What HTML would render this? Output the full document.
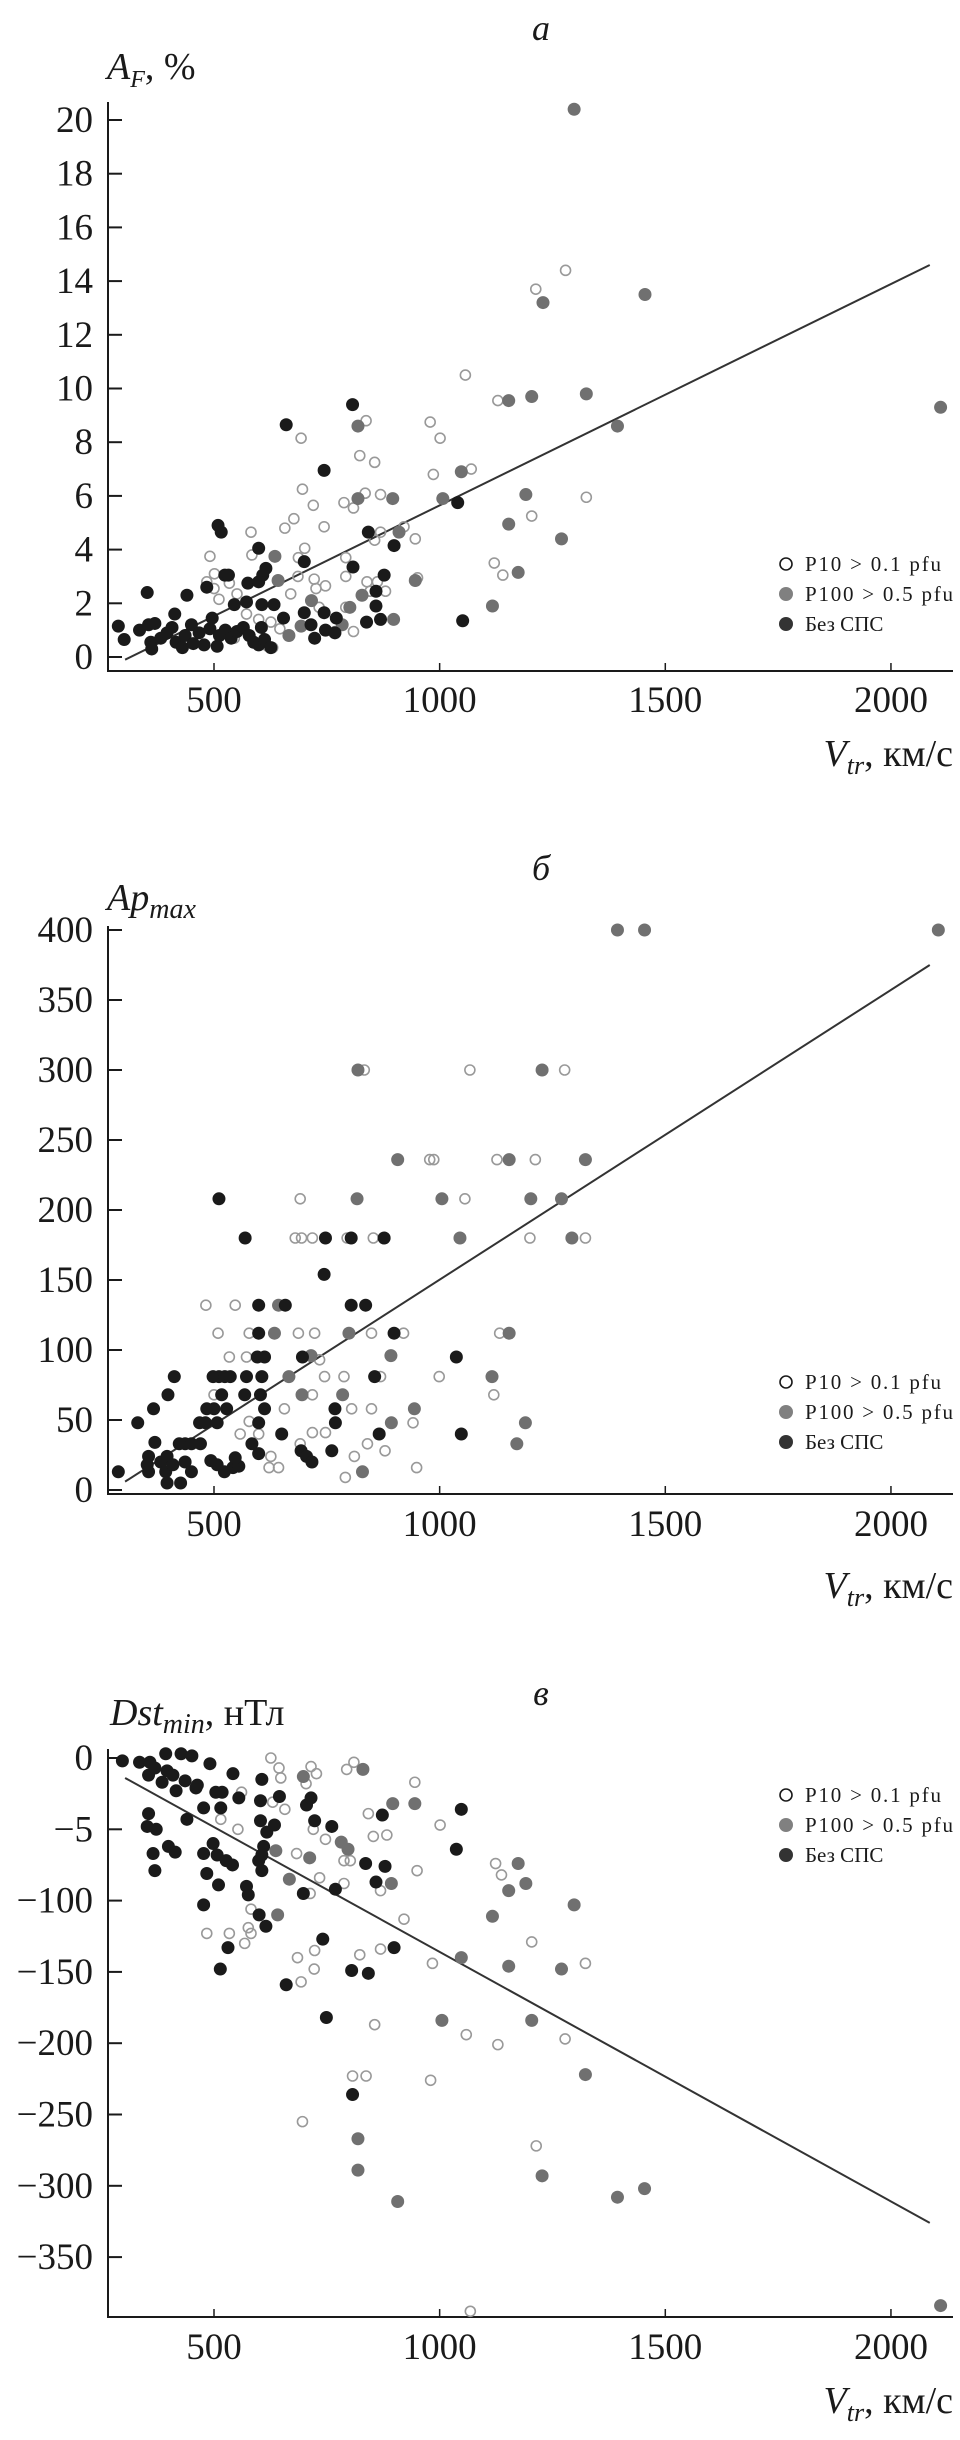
<!DOCTYPE html>
<html><head><meta charset="utf-8"><style>
html,body{margin:0;padding:0;background:#fff;}
svg{display:block;font-family:"Liberation Serif","DejaVu Serif",serif;}
.tick{font-size:37px;fill:#1a1a1a;}
.leg{font-size:21px;fill:#1a1a1a;}
</style></head><body>
<svg id="chart" width="960" height="2440" viewBox="0 0 960 2440" xmlns="http://www.w3.org/2000/svg"></svg>
<script>
// shared x axis
const xTicks = [500, 1000, 1500, 2000];
// panel a: A_F, %
const aTicks = [0, 2, 4, 6, 8, 10, 12, 14, 16, 18, 20];
const aFit = [[303, -0.1], [2086, 14.6]];
const aGray = [[1298,20.4],[1229,13.2],[1455,13.5],[2110,9.3],[1153,9.55],[1204,9.7],[1325,9.8],[1394,8.6],[1048,6.9],[819,8.6],[819,5.9],[896,5.9],[1007,5.9],[1191,6.05],[1153,4.95],[1270,4.4],[910,4.65],[635,3.75],[642,2.85],[946,2.85],[1174,3.15],[828,2.3],[716,2.1],[801,1.85],[1117,1.9],[666,0.8],[693,1.15],[898,1.4],[784,1.2]];
const aOpen = [[1213,13.7],[1279,14.4],[1057,10.5],[1129,9.55],[979,8.75],[1001,8.15],[837,8.8],[693,8.15],[823,7.5],[856,7.25],[1070,7.0],[986,6.8],[696,6.25],[835,6.1],[869,6.05],[788,5.75],[809,5.55],[720,5.65],[677,5.15],[657,4.8],[744,4.85],[921,4.85],[1204,5.25],[1325,5.95],[582,4.65],[869,4.65],[856,4.35],[946,4.4],[584,3.8],[491,3.75],[701,4.05],[687,3.7],[792,3.7],[1121,3.5],[1140,3.05],[501,3.1],[534,2.75],[484,2.8],[686,3.0],[722,2.9],[792,3.0],[839,2.8],[862,2.8],[951,2.95],[500,2.55],[726,2.55],[747,2.65],[670,2.35],[846,2.45],[880,2.45],[511,2.15],[551,2.35],[733,1.85],[792,1.85],[572,1.6],[626,1.3],[646,1.05],[768,0.95],[809,0.95],[619,0.4],[630,0.35],[545,0.7],[599,1.4]];
const aBlack = [[807,9.4],[660,8.65],[744,6.95],[1040,5.75],[509,4.9],[516,4.65],[842,4.65],[899,4.15],[599,4.05],[700,3.55],[808,3.35],[615,3.3],[524,3.05],[532,3.05],[608,3.05],[877,3.05],[575,2.75],[484,2.6],[352,2.4],[440,2.3],[599,2.8],[859,2.45],[545,1.95],[572,2.05],[606,1.95],[633,1.95],[700,1.65],[744,1.65],[859,1.9],[413,1.6],[771,1.45],[654,1.45],[869,1.4],[838,1.3],[1051,1.35],[747,1.0],[768,0.9],[715,1.2],[723,0.7],[288,1.15],[301,0.65],[335,1.0],[355,1.2],[369,1.25],[360,0.55],[362,0.3],[382,0.7],[396,0.9],[407,1.1],[416,0.55],[430,0.35],[436,0.8],[450,1.2],[454,0.5],[467,0.9],[478,0.45],[491,1.05],[496,1.45],[507,0.4],[512,0.8],[525,1.0],[538,0.7],[551,0.95],[565,1.1],[578,0.8],[588,0.55],[599,0.45],[612,0.65],[626,0.35],[605,1.1]];
// panel b: Ap_max
const bTicks = [0, 50, 100, 150, 200, 250, 300, 350, 400];
const bFit = [[303, 6], [2086, 375]];
const bGray = [[1394,400],[1454,400],[2105,400],[819,300],[1227,300],[907,236],[1154,236],[1323,236],[817,208],[1005,208],[1202,208],[1270,208],[1045,180],[1293,180],[643,132],[634,112],[1154,112],[666,81],[1116,81],[892,96],[715,96],[695,68],[785,68],[944,58],[893,48],[1190,48],[1171,33],[829,13],[799,112]];
const bOpen = [[833,300],[1067,300],[1277,300],[978,236],[987,236],[1127,236],[1212,236],[691,208],[1056,208],[680,180],[694,180],[718,180],[795,180],[853,180],[1200,180],[1323,180],[482,132],[547,132],[509,112],[578,112],[687,112],[723,112],[849,112],[920,112],[1133,112],[534,95],[572,95],[734,93],[745,81],[788,81],[869,81],[999,81],[500,68],[718,68],[1120,68],[656,58],[805,58],[849,58],[558,40],[599,40],[578,49],[941,48],[718,41],[747,41],[691,33],[840,33],[879,28],[626,24],[643,16],[622,16],[811,24],[949,16],[791,9],[434,20]];
const bBlack = [[511,208],[569,180],[747,180],[804,180],[877,180],[744,154],[599,132],[658,132],[804,132],[836,132],[599,112],[899,112],[596,95],[612,95],[696,95],[1037,95],[412,81],[498,81],[511,81],[524,81],[536,81],[572,81],[606,81],[856,81],[398,68],[517,68],[568,68],[603,68],[366,58],[484,58],[500,58],[528,58],[612,58],[768,58],[331,48],[468,48],[481,48],[507,48],[599,48],[769,48],[423,33],[436,33],[450,33],[470,33],[650,40],[866,40],[1048,40],[584,33],[599,26],[693,28],[761,28],[705,24],[717,20],[355,24],[352,18],[369,34],[382,20],[396,24],[393,13],[409,18],[436,20],[450,13],[396,5],[426,5],[288,13],[507,18],[523,13],[542,16],[555,17],[547,23],[493,21],[355,13]];
// panel c: Dst_min
const cTicks = [0, -50, -100, -150, -200, -250, -300, -350];
const cTickLabels = ["0", "\u22125", "\u2212100", "\u2212150", "\u2212200", "\u2212250", "\u2212300", "\u2212350"];
const cFit = [[303, -14], [2086, -326]];
const cGray = [[830,-8],[698,-13],[896,-32],[945,-32],[637,-65],[667,-85],[712,-70],[782,-59],[797,-64],[893,-88],[641,-110],[1174,-74],[1153,-93],[1191,-88],[1117,-111],[1298,-103],[1048,-140],[1153,-146],[1270,-148],[1005,-184],[1204,-184],[1323,-222],[819,-267],[819,-289],[907,-311],[1227,-293],[1394,-308],[1454,-302],[2110,-384]];
const cOpen = [[626,0],[644,-7],[648,-14],[715,-6],[727,-11],[704,-18],[794,-8],[810,-3],[515,-43],[561,-24],[553,-50],[657,-36],[630,-31],[720,-50],[747,-57],[734,-84],[713,-95],[683,-67],[788,-72],[802,-72],[853,-55],[883,-54],[842,-39],[945,-17],[950,-79],[1001,-47],[869,-93],[788,-88],[1124,-74],[1137,-82],[1204,-129],[1323,-144],[921,-113],[582,-106],[576,-119],[582,-123],[568,-130],[534,-123],[484,-123],[685,-140],[723,-135],[722,-148],[693,-157],[823,-138],[869,-134],[984,-144],[856,-187],[1059,-194],[1129,-201],[1278,-197],[807,-223],[837,-223],[980,-226],[696,-255],[1214,-272],[1068,-388]];
const cBlack = [[297,-2],[335,-3],[358,-3],[393,3],[427,3],[451,1.5],[491,-4],[542,-11],[606,-15],[645,-27],[705,-33],[715,-28],[873,-40],[1048,-36],[1037,-64],[355,-12],[369,-7],[385,-17],[396,-9],[409,-12],[416,-23],[436,-16],[460,-21],[440,-43],[463,-19],[504,-24],[518,-24],[477,-35],[515,-35],[555,-28],[603,-30],[603,-44],[617,-52],[634,-47],[723,-44],[761,-48],[355,-39],[352,-48],[372,-50],[365,-67],[369,-79],[399,-62],[414,-66],[477,-67],[484,-81],[507,-68],[498,-60],[527,-72],[541,-75],[510,-89],[606,-68],[606,-79],[599,-72],[610,-62],[572,-90],[576,-96],[698,-95],[769,-92],[836,-74],[879,-76],[859,-87],[477,-103],[600,-110],[615,-118],[741,-127],[531,-133],[514,-148],[660,-159],[805,-149],[842,-151],[899,-133],[749,-182],[807,-236]];

const NS = "http://www.w3.org/2000/svg";
const svg = document.getElementById("chart");
function mk(tag, attrs, parent) {
  const e = document.createElementNS(NS, tag);
  for (const k in attrs) e.setAttribute(k, attrs[k]);
  (parent || svg).appendChild(e);
  return e;
}
function xs(v) { return 214 + (v - 500) * 0.4513; }
const X0 = 108, X1 = 953;

function panel(cfg) {
  const g = mk("g", {});
  
  
  const ys = cfg.ys;
  // axes
  const ax = mk("path", {d: `M${X0} ${cfg.top} V${cfg.axisY} H${X1}`, stroke: "#1a1a1a", "stroke-width": 2, fill: "none"}, g);
  
  
  // y ticks
  cfg.ticks.forEach((t, i) => {
    const y = ys(t);
    const tl = mk("line", {x1: X0, x2: X0 + 14, y1: y, y2: y, stroke: "#1a1a1a", "stroke-width": 2}, g);
    
    
    const tx = mk("text", {x: 93, y: y + 12, "text-anchor": "end", class: "tick"}, g);
    
    
    tx.textContent = cfg.labels ? cfg.labels[i] : String(t);
  });
  // x ticks
  xTicks.forEach(t => {
    const x = xs(t);
    const tl = mk("line", {x1: x, x2: x, y1: cfg.axisY, y2: cfg.axisY - 8, stroke: "#1a1a1a", "stroke-width": 1.5}, g);
    
    
    const tx = mk("text", {x: x, y: cfg.xLabY, "text-anchor": "middle", class: "tick"}, g);
    
    
    tx.textContent = String(t);
  });
  // fit line
  const fl = mk("line", {x1: xs(cfg.fit[0][0]), y1: ys(cfg.fit[0][1]), x2: xs(cfg.fit[1][0]), y2: ys(cfg.fit[1][1]), stroke: "#333", "stroke-width": 2}, g);
  
  
  // points
  cfg.open.forEach(p => {
    const c = mk("circle", {cx: xs(p[0]), cy: ys(p[1]), r: 5, fill: "none", stroke: "#999", "stroke-width": 1.6}, g);
    
    
  });
  cfg.gray.forEach(p => {
    const c = mk("circle", {cx: xs(p[0]), cy: ys(p[1]), r: 6.5, fill: "#707070"}, g);
    
    
  });
  cfg.black.forEach(p => {
    const c = mk("circle", {cx: xs(p[0]), cy: ys(p[1]), r: 6.5, fill: "#1a1a1a"}, g);
    
    
  });
  // legend
  const items = [["P10 > 0.1 pfu", "none", "#1a1a1a"], ["P100 > 0.5 pfu", "#808080", "none"], ["Без СПС", "#333", "none"]];
  items.forEach((it, i) => {
    const y = cfg.legY + i * 30;
    const c = mk("circle", {cx: 786, cy: y, r: it[1] === "none" ? 6 : 7, fill: it[1], stroke: it[2], "stroke-width": 1.6}, g);
    
    
    const t = mk("text", {x: 805, y: y + 7, class: "leg"}, g);
    
    
    t.setAttribute("font-family", "Liberation Serif, serif");
    t.textContent = it[0];
    if (i === 1) t.setAttribute("textLength", "148");
    if (i === 0) t.setAttribute("textLength", "136");
  });
  // title
  const ti = mk("text", {x: 541, y: cfg.titleY, "text-anchor": "middle", "font-size": 36, "font-style": "italic", fill: "#1a1a1a"}, g);
  
  
  ti.textContent = cfg.title;
  // y label
  const yl = mk("text", {x: cfg.yLabX, y: cfg.yLabBase, "font-size": 38, fill: "#1a1a1a"}, g);
  
  
  yl.innerHTML = cfg.yLabel;
  // x label
  const xl = mk("text", {x: 953, y: cfg.xTitleY, "text-anchor": "end", "font-size": 38, fill: "#1a1a1a"}, g);
  
  
  xl.innerHTML = '<tspan font-style="italic">V</tspan><tspan font-style="italic" font-size="26" dy="8">tr</tspan><tspan dy="-8">, км/с</tspan>';
}

panel({name: "panel-a", ys: v => 657 - v * 26.85, top: 102, axisY: 671, ticks: aTicks, xLabY: 712, fit: aFit,
  open: aOpen, gray: aGray, black: aBlack, legY: 564, title: "a", titleY: 40, yLabX: 107, yLabBase: 79,
  yLabel: '<tspan font-style="italic">A</tspan><tspan font-style="italic" font-size="24" dy="8">F</tspan><tspan dy="-8">, %</tspan>', xTitleY: 766});
panel({name: "panel-b", ys: v => 1490 - v * 1.4, top: 926, axisY: 1494, ticks: bTicks, xLabY: 1536, fit: bFit,
  open: bOpen, gray: bGray, black: bBlack, legY: 1382, title: "б", titleY: 880, yLabX: 107, yLabBase: 910,
  yLabel: '<tspan font-style="italic">Ap</tspan><tspan font-style="italic" font-size="28" dy="8">max</tspan>', xTitleY: 1598});
panel({name: "panel-c", ys: v => 1758 - v * 1.426, top: 1749, axisY: 2317, ticks: cTicks, labels: cTickLabels, xLabY: 2359, fit: cFit,
  open: cOpen, gray: cGray, black: cBlack, legY: 1795, title: "в", titleY: 1705, yLabX: 110, yLabBase: 1725,
  yLabel: '<tspan font-style="italic">Dst</tspan><tspan font-style="italic" font-size="28" dy="8">min</tspan><tspan dy="-8">, нТл</tspan>', xTitleY: 2413});
</script>
</body></html>
